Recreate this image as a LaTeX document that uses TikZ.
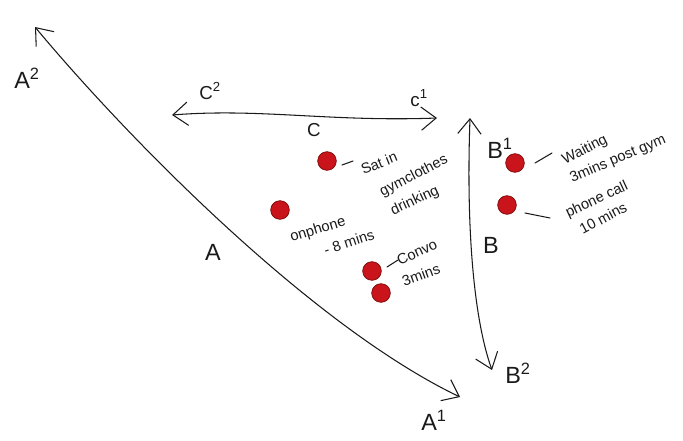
\documentclass[tikz,border=0pt]{standalone}
\usepackage{fontspec}
\setmainfont{Liberation Sans}
\usetikzlibrary{arrows.meta}
\definecolor{ink}{HTML}{1A1A1A}
\definecolor{dotred}{HTML}{C8141A}
\definecolor{dotrim}{HTML}{7A0A0A}

\begin{document}
\begin{tikzpicture}[
  x=0.03cm,y=0.03cm,
  axis/.style={{Straight Barb[length=4.5mm,width=7mm]}-{Straight Barb[length=4.5mm,width=7mm]}, line width=0.9pt, color=ink},
  tick/.style={line width=0.9pt, color=ink, line cap=round},
  dot/.style={circle, fill=dotred, draw=dotrim, line width=0.6pt, inner sep=0pt, minimum size=5.6mm},
  big/.style={font=\fontsize{20}{22}\selectfont, color=ink, inner sep=0pt},
  mid/.style={font=\fontsize{16}{18}\selectfont, color=ink, inner sep=0pt},
  note/.style={font=\fontsize{12.5}{14}\selectfont, color=ink, inner sep=0pt},
]
\useasboundingbox (0,0) rectangle (683,-440);
% ends of the three axes
\coordinate (a2) at (35,-27); \coordinate (a1) at (460,-397);
\coordinate (c2) at (172,-115); \coordinate (c1) at (437,-118);
\coordinate (b1) at (470,-118); \coordinate (b2) at (492,-370);
\draw[axis] (a2) .. controls (125,-135) and (310,-325) .. (a1);
\draw[axis] (c2) .. controls (260,-108) and (330,-122) .. (c1);
\draw[axis] (b1) .. controls (466,-230) and (474,-320) .. (b2);
% axis labels
\node[big] (la2) at (27,-78) {A\textsuperscript{2}};
\node[big] (la) at (213,-252) {A};
\node[big] (la1) at (434,-420) {A\textsuperscript{1}};
\node[mid] (lc2) at (210,-91) {C\textsuperscript{2}};
\node[mid] (lc) at (314,-130) {C};
\node[mid] (lc1) at (419,-98) {c\textsuperscript{1}};
\node[big] (lb1) at (500,-148) {B\textsuperscript{1}};
\node[big] (lb) at (491,-245) {B};
\node[big] (lb2) at (518,-373) {B\textsuperscript{2}};
% events
\node[dot] (gym) at (327,-161) {};
\node[dot] (phone) at (280,-210) {};
\node[dot] (convo) at (372,-271) {};
\node[dot] (convob) at (381,-293) {};
\node[dot] (wait) at (515,-163) {};
\node[dot] (call) at (507,-205) {};
% notes
\coordinate (t1a) at (342,-165); \coordinate (t1b) at (353,-161); \draw[tick] (t1a) -- (t1b);
\node[note,rotate=22] (n1a) at (379,-163) {Sat in};
\node[note,rotate=27] (n1b) at (414,-176) {gymclothes};
\node[note,rotate=25] (n1c) at (415,-201) {drinking};
\node[note,rotate=17] (n2a) at (318,-230) {onphone};
\node[note,rotate=18] (n2b) at (349,-242) {- 8 mins};
\coordinate (t3a) at (387,-267); \coordinate (t3b) at (398,-260); \draw[tick] (t3a) -- (t3b);
\node[note,rotate=25] (n3a) at (417,-252) {Convo};
\node[note,rotate=20] (n3b) at (421,-275) {3mins};
\coordinate (t4a) at (535,-163); \coordinate (t4b) at (552,-153); \draw[tick] (t4a) -- (t4b);
\node[note,rotate=27] (n4a) at (585,-150) {Waiting};
\node[note,rotate=23] (n4b) at (618,-159) {3mins post gym};
\coordinate (t5a) at (525,-213); \coordinate (t5b) at (550,-218); \draw[tick] (t5a) -- (t5b);
\node[note,rotate=25] (n5a) at (597,-200) {phone call};
\node[note,rotate=28] (n5b) at (603,-218) {10 mins};
\end{tikzpicture}
\end{document}
